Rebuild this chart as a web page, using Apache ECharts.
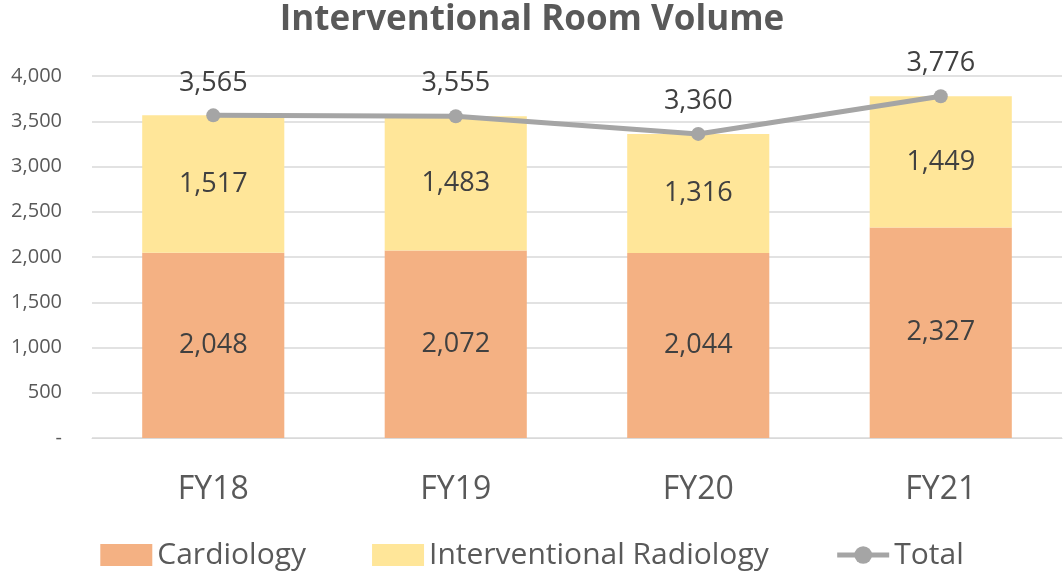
<!DOCTYPE html>
<html>
<head>
<meta charset="utf-8">
<script src="https://cdn.jsdelivr.net/npm/echarts@6/dist/echarts.min.js"></script>
<style>
  html, body { margin: 0; padding: 0; background: #fff; }
  #chart { width: 1064px; height: 575px; }
</style>
</head>
<body>
<div id="chart"></div>
<script>
const categories = ['FY18', 'FY19', 'FY20', 'FY21']
const cardiology = [2048, 2072, 2044, 2327]
const radiology = [1517, 1483, 1316, 1449]
const total = [3565, 3555, 3360, 3776]

const fmt = v => v.toLocaleString('en-US')
const font = 'Open Sans'

const myChart = echarts.init(document.getElementById('chart'))
const option = {
  textStyle: { fontFamily: font },
  title: {
    text: 'Interventional Room Volume',
    left: 'center',
    top: -2,
    textStyle: { fontSize: 35, fontWeight: 'bold', color: '#595959', fontFamily: font }
  },
  grid: { left: 92, right: 2, top: 76, bottom: 137 },
  legend: {
    bottom: 0,
    left: 'center',
    itemWidth: 52,
    itemHeight: 22,
    itemGap: 66,
    textStyle: { fontSize: 30, color: '#595959', fontFamily: font },
    data: [
      { name: 'Cardiology', icon: 'rect' },
      { name: 'Interventional Radiology', icon: 'rect' },
      { name: 'Total', lineStyle: { width: 5, color: '#A5A5A5' } }
    ]
  },
  xAxis: {
    type: 'category',
    data: categories,
    axisLine: { lineStyle: { color: '#d9d9d9' } },
    axisTick: { show: false },
    axisLabel: { fontSize: 32, color: '#595959', margin: 36 }
  },
  yAxis: {
    type: 'value',
    min: 0,
    max: 4000,
    interval: 500,
    axisLine: { show: false },
    axisTick: { show: false },
    splitLine: { lineStyle: { color: '#d9d9d9', width: 1.5 } },
    axisLabel: {
      fontSize: 20,
      color: '#595959',
      margin: 30,
      formatter: v => (v === 0 ? '-' : fmt(v))
    }
  },
  series: [
    {
      name: 'Cardiology',
      type: 'bar',
      stack: 'vol',
      barWidth: '58.6%',
      itemStyle: { color: '#F4B183' },
      label: { show: true, position: 'inside', fontSize: 27, color: '#404040', formatter: p => fmt(p.value) },
      data: cardiology
    },
    {
      name: 'Interventional Radiology',
      type: 'bar',
      stack: 'vol',
      itemStyle: { color: '#FFE699' },
      label: { show: true, position: 'inside', fontSize: 27, color: '#404040', formatter: p => fmt(p.value) },
      data: radiology
    },
    {
      name: 'Total',
      type: 'line',
      symbol: 'circle',
      symbolSize: 14,
      lineStyle: { color: '#A5A5A5', width: 5 },
      itemStyle: { color: '#A5A5A5' },
      label: { show: true, position: 'top', distance: 12, fontSize: 27, color: '#404040', formatter: p => fmt(p.value) },
      data: total
    }
  ]
}
myChart.setOption(option)
</script>
</body>
</html>
